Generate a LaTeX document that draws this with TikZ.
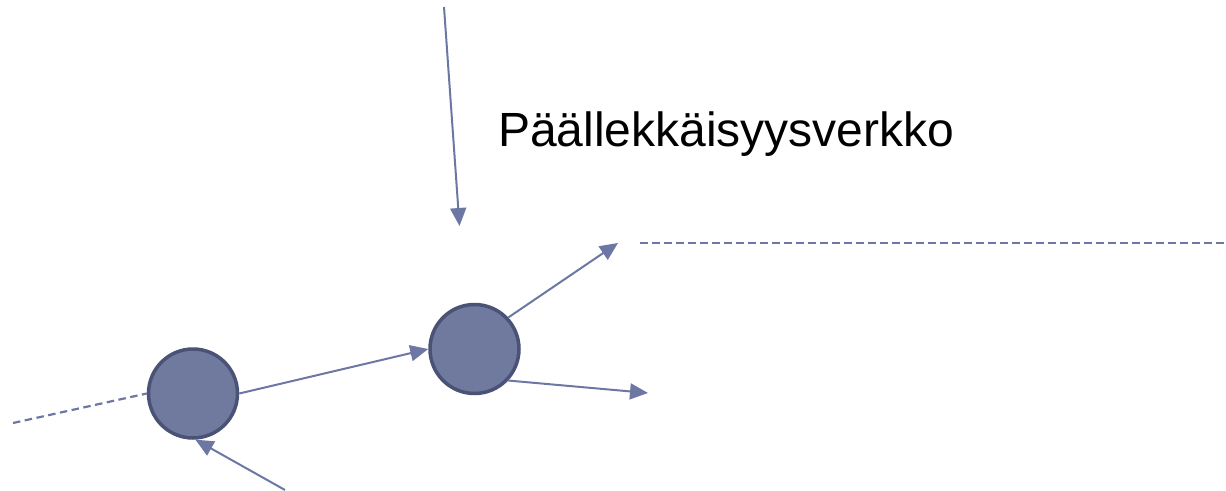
\documentclass[tikz,border=0pt]{standalone}
\usepackage{fontspec}
\setmainfont{Liberation Sans}
\usetikzlibrary{arrows.meta}
\definecolor{linec}{HTML}{6C78A3}
\definecolor{fillc}{HTML}{6F7A9E}
\definecolor{borderc}{HTML}{4A5275}
\tikzset{
  peer/.style={circle, draw=borderc, fill=fillc, line width=3.5pt, minimum size=89pt, inner sep=0pt},
  arr/.style={draw=linec, line width=2pt, -{Triangle[length=18pt,width=16pt]}},
  dline/.style={draw=linec, line width=2.2pt, dash pattern=on 7.5pt off 4.5pt},
  lbl/.style={inner sep=0pt, anchor=base west, font=\fontsize{48}{58}\selectfont}
}
\begin{document}
\begin{tikzpicture}[x=1pt,y=-1pt]
\useasboundingbox (0,0) rectangle (1226,490);
\node[lbl] (title) at (498,146) {Päällekkäisyysverkko};
\node[peer] (c1) at (193,393.5) {};
\node[peer] (c2) at (474.5,349) {};
\coordinate (topstart) at (444,7);
\coordinate (topend) at (459.5,226);
\coordinate (ur) at (618,243);
\coordinate (rr) at (648,393);
\coordinate (bot) at (285,490);
\coordinate (dl) at (13,423);
\coordinate (dr1) at (640,243);
\coordinate (dr2) at (1226,243);
\draw[arr] (topstart) -- (topend);
\draw[arr] (c1.east) -- (c2.west);
\draw[arr] (c2.43) -- (ur);
\draw[arr] (c2.-43) -- (rr);
\draw[arr] (bot) -- (c1.-87);
\draw[dline] (dl) -- (c1.west);
\draw[dline] (dr1) -- (dr2);
\end{tikzpicture}
\end{document}
